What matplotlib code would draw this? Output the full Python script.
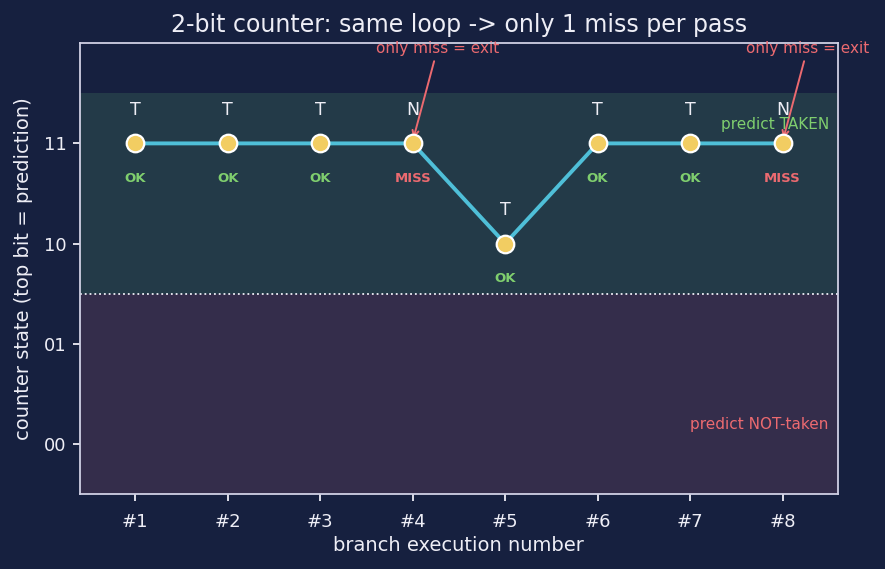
import numpy as np
import matplotlib
matplotlib.use('Agg')
import matplotlib.pyplot as plt

runs = [1, 2, 3, 4, 5, 6, 7, 8]
xlabels = ['#1', '#2', '#3', '#4', '#5', '#6', '#7', '#8']
state = [3, 3, 3, 3, 2, 3, 3, 3]
outcome = ['T', 'T', 'T', 'N', 'T', 'T', 'T', 'N']
result = ['OK', 'OK', 'OK', 'MISS', 'OK', 'OK', 'OK', 'MISS']
state_labels = ['00', '01', '10', '11']

bg = '#16203f'
fg = '#eeeef6'
green = '#7fce6e'
red = '#ec6a70'

fig, ax = plt.subplots(figsize=(8.85, 5.69), dpi=100)
fig.patch.set_facecolor(bg)
ax.set_facecolor(bg)

ax.axhspan(1.5, 3.5, color='#3d6b5a', alpha=0.35, lw=0)
ax.axhspan(-0.5, 1.5, color='#5a3d5a', alpha=0.45, lw=0)
ax.axhline(1.5, color=fg, ls=':', lw=1.3)

ax.plot(runs, state, color='#4fbfd8', lw=2.8, zorder=3)
ax.scatter(runs, state, s=160, color='#f2cd62', edgecolor='white', linewidth=1.6, zorder=4)

for x, y, o, r in zip(runs, state, outcome, result):
    ax.text(x, y + 0.33, o, ha='center', va='center', color=fg, fontsize=12.5)
    c = green if r == 'OK' else red
    ax.text(x, y - 0.35, r, ha='center', va='center', color=c, fontsize=9.5, fontweight='bold')

for x in [4, 8]:
    ax.annotate('only miss = exit', xy=(x, 3.02), xytext=(x + 0.27, 3.95),
                ha='center', va='center', color=red, fontsize=11,
                arrowprops=dict(arrowstyle='->', color=red, lw=1.4))

ax.text(8.5, 3.19, 'predict TAKEN', ha='right', va='center', color=green, fontsize=11)
ax.text(8.5, 0.19, 'predict NOT-taken', ha='right', va='center', color=red, fontsize=11)

ax.set_xlim(0.4, 8.6)
ax.set_ylim(-0.5, 4.0)
ax.set_xticks(runs)
ax.set_xticklabels(xlabels)
ax.set_yticks([0, 1, 2, 3])
ax.set_yticklabels(state_labels)
ax.tick_params(colors=fg, labelsize=13, length=5, width=1.3, pad=4.5)
ax.tick_params(axis='x', pad=8.5)
for s in ax.spines.values():
    s.set_color('#d0d0e4')
    s.set_linewidth(1.3)
ax.set_xlabel('branch execution number', color=fg, fontsize=14, labelpad=4)
ax.set_ylabel('counter state (top bit = prediction)', color=fg, fontsize=14, labelpad=8)
ax.set_title('2-bit counter: same loop -> only 1 miss per pass', color=fg, fontsize=17, pad=8)

plt.subplots_adjust(left=0.09, right=0.947, top=0.924, bottom=0.132)
plt.savefig('out.png', facecolor=bg)
